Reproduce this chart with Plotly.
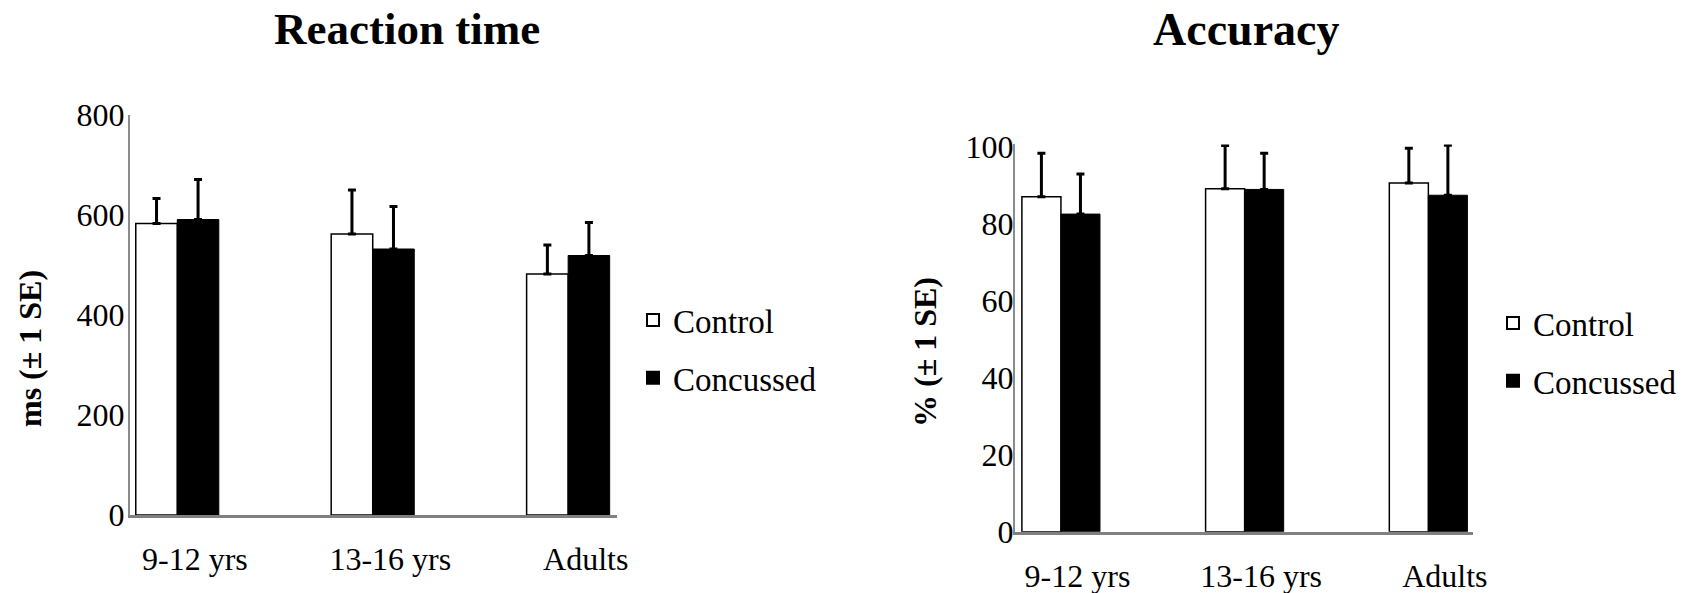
import plotly.graph_objects as go

# ---- data ----
categories = ["9-12 yrs", "13-16 yrs", "Adults"]
series_names = ["Control", "Concussed"]

rt_control = [583, 562, 482]
rt_control_se = [50, 88, 58]
rt_concussed = [591, 532, 519]
rt_concussed_se = [80, 85, 66]

acc_control = [87.0, 89.1, 90.6]
acc_control_se = [11.3, 11.2, 9.0]
acc_concussed = [82.5, 88.9, 87.4]
acc_concussed_se = [10.4, 9.4, 13.0]

rt_ticks = [0, 200, 400, 600, 800]
acc_ticks = [0, 20, 40, 60, 80, 100]

W, H = 1700, 593
PAGE_OFFSET = 0  # body margin removed by post_script below
FONT = "Liberation Serif, Times New Roman, serif"

xpos = list(range(len(categories)))


def px_x(p):
    return (p - PAGE_OFFSET) / W


def px_y(p):
    return (H - (p - PAGE_OFFSET)) / H


fig = go.Figure()

styles = [
    dict(color="white", line=dict(color="black", width=1.5)),
    dict(color="black", line=dict(color="black", width=1)),
]

for i, (vals, ses) in enumerate([(rt_control, rt_control_se), (rt_concussed, rt_concussed_se)]):
    fig.add_trace(go.Bar(
        x=xpos, y=vals, name=series_names[i], marker=styles[i],
        error_y=dict(type="data", array=ses, arrayminus=[0] * len(ses), symmetric=False,
                     color="black", thickness=3, width=4),
        xaxis="x", yaxis="y", legend="legend", legendgroup=f"a{i}",
    ))

for i, (vals, ses) in enumerate([(acc_control, acc_control_se), (acc_concussed, acc_concussed_se)]):
    fig.add_trace(go.Bar(
        x=xpos, y=vals, name=series_names[i], marker=styles[i],
        error_y=dict(type="data", array=ses, arrayminus=[0] * len(ses), symmetric=False,
                     color="black", thickness=3, width=4),
        xaxis="x2", yaxis="y2", legend="legend2", legendgroup=f"b{i}",
    ))

tickfont = dict(family=FONT, size=32, color="black")
label_shift = 0.09

xcommon = dict(
    tickmode="array", tickvals=[p + label_shift for p in xpos], ticktext=categories,
    showline=True, linecolor="#808080", linewidth=3, showgrid=False, zeroline=False,
    ticks="", tickfont=tickfont, ticklabelstandoff=14, automargin=False,
)
fig.update_layout(
    width=W, height=H,
    paper_bgcolor="white", plot_bgcolor="white",
    margin=dict(l=0, r=0, t=0, b=0, pad=0, autoexpand=False),
    barmode="group", bargap=0.575, bargroupgap=0,
    font=dict(family=FONT, color="black"),
    xaxis=dict(domain=[px_x(130), px_x(617)], range=[-0.242, 2.25], anchor="y", **xcommon),
    yaxis=dict(domain=[px_y(515), px_y(115)], range=[0, 800], anchor="x",
               tickmode="array", tickvals=rt_ticks, automargin=False,
               showline=True, linecolor="#8c8c8c", linewidth=2, showgrid=False, zeroline=False,
               ticks="", tickfont=tickfont, ticklabelstandoff=-3),
    xaxis2=dict(domain=[px_x(1015), px_x(1473)], range=[-0.25, 2.243], anchor="y2", **xcommon),
    yaxis2=dict(domain=[px_y(531.7), px_y(144.4)], range=[0, 100.6], anchor="x2",
                tickmode="array", tickvals=acc_ticks, automargin=False,
                showline=True, linecolor="#8c8c8c", linewidth=2, showgrid=False, zeroline=False,
                ticks="", tickfont=tickfont, ticklabelstandoff=-7),
    legend=dict(x=px_x(633), y=px_y(292), xanchor="left", yanchor="top",
                font=dict(family=FONT, size=33, color="black"),
                bgcolor="rgba(0,0,0,0)", traceorder="grouped", tracegroupgap=12,
                itemsizing="constant"),
    legend2=dict(x=px_x(1493), y=px_y(295), xanchor="left", yanchor="top",
                 font=dict(family=FONT, size=33, color="black"),
                 bgcolor="rgba(0,0,0,0)", traceorder="grouped", tracegroupgap=12,
                 itemsizing="constant"),
    showlegend=True,
)

fig.add_annotation(text="<b>Reaction time</b>", x=px_x(407), y=px_y(29), xref="paper", yref="paper",
                   xanchor="center", yanchor="middle", showarrow=False,
                   font=dict(family=FONT, size=45, color="black"))
fig.add_annotation(text="<b>Accuracy</b>", x=px_x(1246), y=px_y(29), xref="paper", yref="paper",
                   xanchor="center", yanchor="middle", showarrow=False,
                   font=dict(family=FONT, size=46, color="black"))
fig.add_annotation(text="<b>ms (± 1 SE)</b>", x=px_x(30), y=px_y(349), xref="paper", yref="paper",
                   xanchor="center", yanchor="middle", showarrow=False, textangle=-90,
                   font=dict(family=FONT, size=32, color="black"))
fig.add_annotation(text="<b>% (± 1 SE)</b>", x=px_x(925), y=px_y(352), xref="paper", yref="paper",
                   xanchor="center", yanchor="middle", showarrow=False, textangle=-90,
                   font=dict(family=FONT, size=32, color="black"))

fig.write_html("out.html", config={"displayModeBar": False},
               post_script="document.body.style.margin='0';")
